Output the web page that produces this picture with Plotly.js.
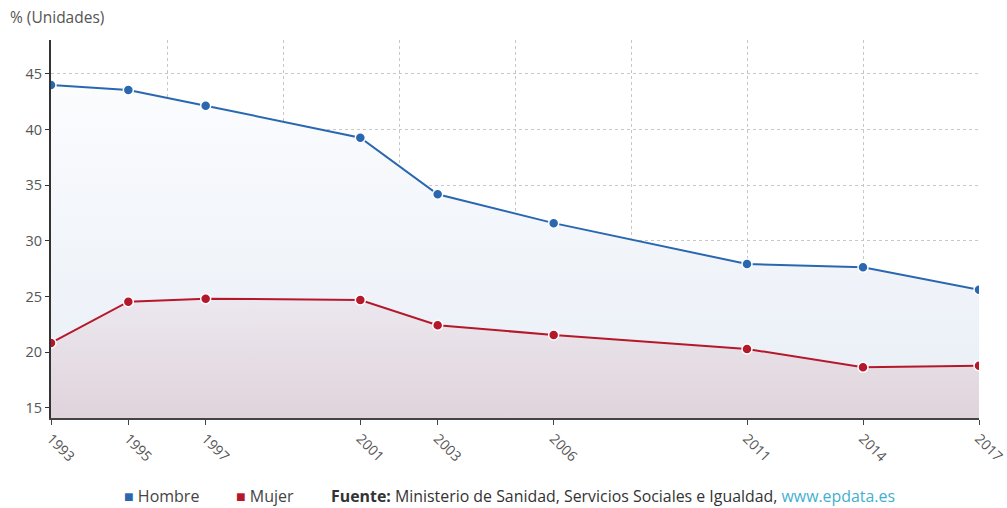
<!DOCTYPE html>
<html>
<head>
<meta charset="utf-8">
<script src="https://cdn.plot.ly/plotly-3.0.1.min.js"></script>
<style>html,body{margin:0;padding:0;background:#fff;}#chart{width:1007px;height:508px;}</style>
</head>
<body>
<div id="chart"></div>
<script>
var years = [1993, 1995, 1997, 2001, 2003, 2006, 2011, 2014, 2017];
var tickLabels = ['1993', '1995', '1997', '2001', '2003', '2006', '2011', '2014', '2017'];
var hombre = [44.0, 43.55, 42.15, 39.28, 34.2, 31.6, 27.93, 27.63, 25.62];
var mujer = [20.84, 24.55, 24.82, 24.7, 22.43, 21.56, 20.3, 18.65, 18.8];
var seriesNames = ['Hombre', 'Mujer'];

var blue = '#2a67b1', red = '#b5182b';
var mainFont = 'Open Sans, Noto Sans, sans-serif';
var narrowFont = 'Liberation Sans Narrow, Arial Narrow, Open Sans, sans-serif';

var traces = [
  {
    x: years, y: hombre, name: seriesNames[0], type: 'scatter', mode: 'lines+markers',
    line: {color: blue, width: 2},
    marker: {color: blue, size: 10, line: {color: '#fff', width: 1.5}},
    fill: 'tozeroy',
    fillgradient: {type: 'vertical', start: 14, stop: 44, colorscale: [[0, '#e8eef6'], [1, '#fbfcfe']]},
    hoverinfo: 'x+y'
  },
  {
    x: years, y: mujer, name: seriesNames[1], type: 'scatter', mode: 'lines+markers',
    line: {color: red, width: 2},
    marker: {color: red, size: 10, line: {color: '#fff', width: 1.5}},
    fill: 'tozeroy',
    fillgradient: {type: 'vertical', start: 14, stop: 25, colorscale: [[0, '#e0d3db'], [1, '#ece8ef']]},
    hoverinfo: 'x+y'
  },
  {x: [years[0]], y: [null], xaxis: 'x2', type: 'scatter', mode: 'markers', showlegend: false, hoverinfo: 'skip'}
];

var plotL = 51, plotR = 979, plotT = 40, plotB = 418;
function px2paperX(p) { return (p - plotL) / (plotR - plotL); }
function px2paperY(p) { return (plotB - p) / (plotB - plotT); }

var legendY = px2paperY(496);
var annotations = [
  {xref: 'paper', yref: 'paper', x: px2paperX(122), y: legendY, xanchor: 'left', yanchor: 'middle', showarrow: false,
   text: '<span style="color:' + blue + '">■</span> ' + seriesNames[0], font: {family: narrowFont, size: 16, color: '#444'}},
  {xref: 'paper', yref: 'paper', x: px2paperX(234), y: legendY, xanchor: 'left', yanchor: 'middle', showarrow: false,
   text: '<span style="color:' + red + '">■</span> ' + seriesNames[1], font: {family: narrowFont, size: 16, color: '#444'}},
  {xref: 'paper', yref: 'paper', x: px2paperX(329), y: legendY, xanchor: 'left', yanchor: 'middle', showarrow: false,
   text: '<b>Fuente:</b> Ministerio de Sanidad, Servicios Sociales e Igualdad, <span style="color:#3fb0cf">www.epdata.es</span>',
   font: {family: narrowFont, size: 15.9, color: '#333'}}
];

var layout = {
  width: 1007, height: 508,
  margin: {l: plotL, r: 1007 - plotR, t: plotT, b: 508 - plotB, pad: 0},
  paper_bgcolor: '#fff', plot_bgcolor: '#fff',
  showlegend: false,
  title: {text: '% (Unidades)', x: 10 / 1007, xanchor: 'left', xref: 'container', y: 1 - 18 / 508, yanchor: 'middle', yref: 'container',
          font: {family: mainFont, size: 15.5, color: '#555'}},
  xaxis: {
    type: 'linear', range: [1993, 2017], tickmode: 'array', tickvals: years, ticktext: tickLabels,
    tickangle: 45, tickfont: {family: mainFont, size: 14, color: '#555'}, ticklabeloverflow: 'allow',
    showgrid: false, zeroline: false, showline: true, linecolor: '#444', linewidth: 2,
    ticks: 'outside', ticklen: 5, tickcolor: '#444', fixedrange: true
  },
  xaxis2: {
    overlaying: 'x', type: 'linear', range: [1993, 2017], tick0: 1993, dtick: 3,
    showgrid: true, gridcolor: '#c8c8c8', griddash: 'dot', gridwidth: 1,
    showticklabels: false, ticks: '', zeroline: false, showline: false
  },
  yaxis: {
    range: [14.1, 48.05], tick0: 15, dtick: 5, tickfont: {family: mainFont, size: 14.5, color: '#555'},
    showgrid: true, gridcolor: '#c8c8c8', griddash: 'dot', gridwidth: 1,
    zeroline: false, showline: true, linecolor: '#333', linewidth: 2,
    ticks: 'outside', ticklen: 4, tickcolor: '#333', fixedrange: true
  },
  annotations: annotations
};

Plotly.newPlot('chart', traces, layout, {displayModeBar: false, staticPlot: true});
</script>
</body>
</html>
